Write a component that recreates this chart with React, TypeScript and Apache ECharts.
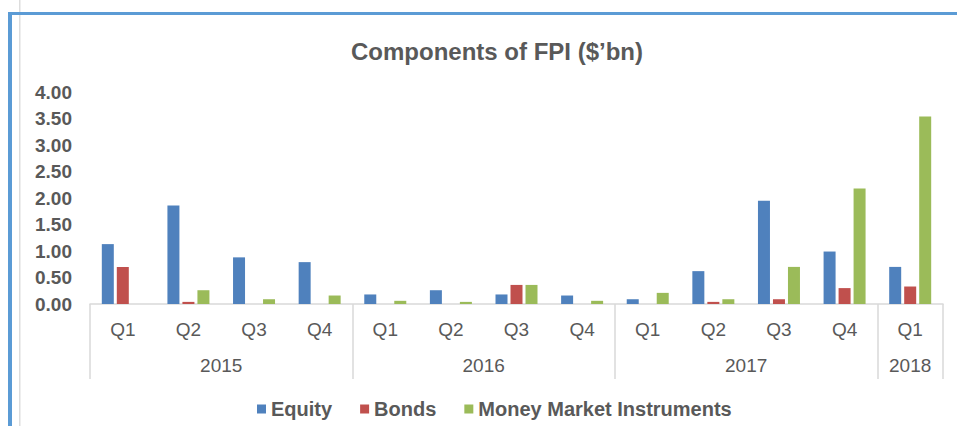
import React, { useEffect, useRef } from "react";
import * as echarts from "echarts";

const quarters = ["Q1", "Q2", "Q3", "Q4", "Q1", "Q2", "Q3", "Q4", "Q1", "Q2", "Q3", "Q4", "Q1"];
const years = ["2015", "2016", "2017", "2018"];
const quartersPerYear = [4, 4, 4, 1];
const equity = [1.13, 1.86, 0.88, 0.79, 0.18, 0.26, 0.18, 0.16, 0.09, 0.62, 1.95, 0.99, 0.7];
const bonds = [0.7, 0.04, 0, 0, 0, 0, 0.36, 0, 0, 0.04, 0.09, 0.3, 0.33];
const moneyMarket = [0, 0.26, 0.09, 0.16, 0.06, 0.04, 0.36, 0.06, 0.21, 0.09, 0.7, 2.18, 3.54];
const yTicks = { min: 0, max: 4, interval: 0.5 };

const FONT = "'Liberation Sans', Arial, sans-serif";
const TEXT = "#595959";
const AXIS = "#D9D9D9";

export default function App() {
  const ref = useRef<HTMLDivElement>(null);
  useEffect(() => {
    if (!ref.current) return;
    const chart = echarts.init(ref.current, null, { renderer: "svg" });
    const boundaries: number[] = [0];
    const centers: number[] = [];
    quartersPerYear.forEach((n) => {
      const start = boundaries[boundaries.length - 1];
      centers.push(start + n / 2);
      boundaries.push(start + n);
    });
    const total = boundaries[boundaries.length - 1];
    chart.setOption({
      animation: false,
      backgroundColor: "#ffffff",
      textStyle: { fontFamily: FONT },
      title: {
        text: "Components of FPI ($\u2019bn)",
        left: 346,
        top: 34,
        textStyle: { fontFamily: FONT, fontSize: 24, fontWeight: "bold", color: TEXT },
      },
      legend: {
        left: 252,
        top: 394,
        icon: "rect",
        itemWidth: 9,
        itemHeight: 9,
        itemGap: 28,
        textStyle: { fontFamily: FONT, fontSize: 20, fontWeight: "bold", color: TEXT },
        data: ["Equity", "Bonds", "Money Market Instruments"],
      },
      grid: { left: 90, right: 14, top: 92, bottom: 122, containLabel: false },
      xAxis: [
        {
          type: "category",
          data: quarters,
          axisLine: { show: true, lineStyle: { color: AXIS, width: 1.5 } },
          axisTick: { show: false },
          axisLabel: { fontFamily: FONT, fontSize: 19, color: TEXT, margin: 16, interval: 0 },
          splitLine: { show: false },
        },
        {
          type: "value",
          position: "bottom",
          min: 0,
          max: total,
          axisLine: { show: false },
          axisTick: {
            show: true,
            customValues: boundaries,
            length: 75,
            lineStyle: { color: AXIS, width: 1.5 },
          },
          axisLabel: {
            customValues: centers,
            margin: 52,
            fontFamily: FONT,
            fontSize: 19,
            color: TEXT,
            formatter: (v: number) => {
              const i = centers.findIndex((c) => Math.abs(c - v) < 1e-6);
              return i >= 0 ? years[i] : "";
            },
          },
          splitLine: { show: false },
        },
      ],
      yAxis: {
        type: "value",
        min: yTicks.min,
        max: yTicks.max,
        interval: yTicks.interval,
        axisLine: { show: false },
        axisTick: { show: false },
        splitLine: { show: false },
        axisLabel: {
          fontFamily: FONT,
          fontSize: 19,
          fontWeight: "bold",
          color: TEXT,
          margin: 18,
          formatter: (v: number) => v.toFixed(2),
        },
      },
      series: [
        { name: "Equity", type: "bar", data: equity, barWidth: 12, barGap: "25%", itemStyle: { color: "#4F81BD" } },
        { name: "Bonds", type: "bar", data: bonds, barWidth: 12, barGap: "25%", itemStyle: { color: "#C0504D" } },
        { name: "Money Market Instruments", type: "bar", data: moneyMarket, barWidth: 12, barGap: "25%", itemStyle: { color: "#9BBB59" } },
      ],
      graphic: [
        { type: "rect", shape: { x: 19, y: 0, width: 1.5, height: 426 }, style: { fill: "#DDDDDD" }, silent: true },
        { type: "rect", shape: { x: 8, y: 12, width: 949, height: 3 }, style: { fill: "#5B9BD5" }, silent: true },
        { type: "rect", shape: { x: 8, y: 12, width: 4, height: 414 }, style: { fill: "#5B9BD5" }, silent: true },
      ],
    });
    return () => chart.dispose();
  }, []);
  return (
    <div
      ref={ref}
      style={{ position: "fixed", left: 0, top: 0, width: 957, height: 426 }}
    />
  );
}
